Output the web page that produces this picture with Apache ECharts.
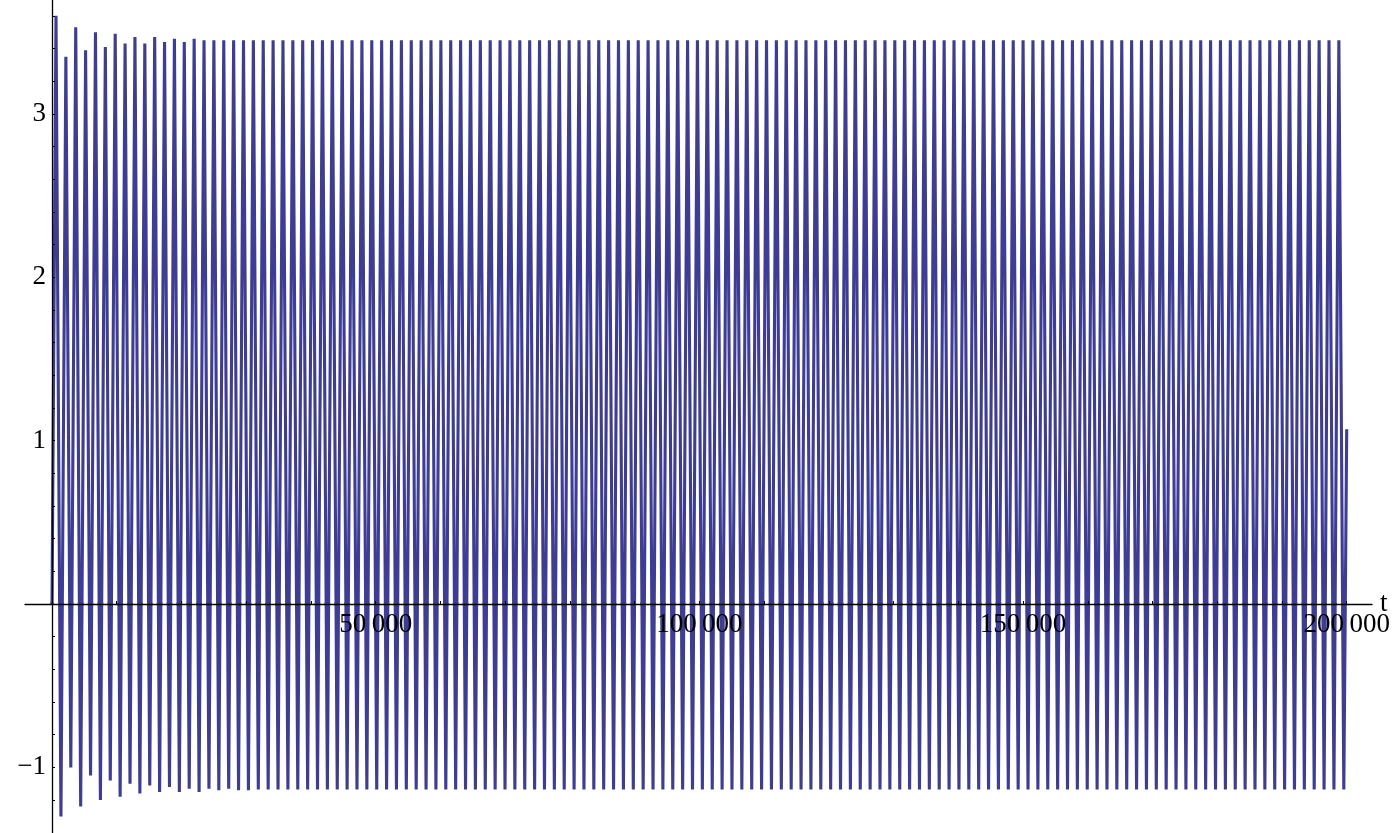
<!DOCTYPE html>
<html>
<head>
<meta charset="utf-8">
<script src="https://cdn.jsdelivr.net/npm/echarts@6/dist/echarts.min.js"></script>
<style>
html,body{margin:0;padding:0;background:#fff;}
#chart{width:1400px;height:833px;}
</style>
</head>
<body>
<div id="chart"></div>
<script>
// ---- data ----
// value at t = 0 and at t = 200000
var startPoint = [0, 0.0];
var endPoint = [200000, 1.07];
// sampling grid of the extrema: first maximum at t = 618, then every half period
var firstPeakT = 618;
var halfPeriod = 762.2;
// successive maxima (131)
var peaks = [
  3.60, 3.35, 3.53, 3.39, 3.50, 3.41, 3.49, 3.43, 3.47, 3.43,
  3.47, 3.44, 3.46, 3.44, 3.46, 3.45,
  3.45, 3.45, 3.45, 3.45, 3.45, 3.45, 3.45, 3.45, 3.45, 3.45,
  3.45, 3.45, 3.45, 3.45, 3.45, 3.45, 3.45, 3.45, 3.45, 3.45,
  3.45, 3.45, 3.45, 3.45, 3.45, 3.45, 3.45, 3.45, 3.45, 3.45,
  3.45, 3.45, 3.45, 3.45, 3.45, 3.45, 3.45, 3.45, 3.45, 3.45,
  3.45, 3.45, 3.45, 3.45, 3.45, 3.45, 3.45, 3.45, 3.45, 3.45,
  3.45, 3.45, 3.45, 3.45, 3.45, 3.45, 3.45, 3.45, 3.45, 3.45,
  3.45, 3.45, 3.45, 3.45, 3.45, 3.45, 3.45, 3.45, 3.45, 3.45,
  3.45, 3.45, 3.45, 3.45, 3.45, 3.45, 3.45, 3.45, 3.45, 3.45,
  3.45, 3.45, 3.45, 3.45, 3.45, 3.45, 3.45, 3.45, 3.45, 3.45,
  3.45, 3.45, 3.45, 3.45, 3.45, 3.45, 3.45, 3.45, 3.45, 3.45,
  3.45, 3.45, 3.45, 3.45, 3.45, 3.45, 3.45, 3.45, 3.45, 3.45,
  3.45, 3.45, 3.45, 3.45, 3.45
];
// successive minima (131)
var troughs = [
  -1.30, -1.00, -1.24, -1.05, -1.20, -1.08, -1.18, -1.10, -1.16, -1.11,
  -1.15, -1.12, -1.15, -1.13, -1.15, -1.13, -1.14, -1.13, -1.14, -1.14,
  -1.135, -1.135, -1.135, -1.135, -1.135, -1.135, -1.135, -1.135, -1.135, -1.135,
  -1.135, -1.135, -1.135, -1.135, -1.135, -1.135, -1.135, -1.135, -1.135, -1.135,
  -1.135, -1.135, -1.135, -1.135, -1.135, -1.135, -1.135, -1.135, -1.135, -1.135,
  -1.135, -1.135, -1.135, -1.135, -1.135, -1.135, -1.135, -1.135, -1.135, -1.135,
  -1.135, -1.135, -1.135, -1.135, -1.135, -1.135, -1.135, -1.135, -1.135, -1.135,
  -1.135, -1.135, -1.135, -1.135, -1.135, -1.135, -1.135, -1.135, -1.135, -1.135,
  -1.135, -1.135, -1.135, -1.135, -1.135, -1.135, -1.135, -1.135, -1.135, -1.135,
  -1.135, -1.135, -1.135, -1.135, -1.135, -1.135, -1.135, -1.135, -1.135, -1.135,
  -1.135, -1.135, -1.135, -1.135, -1.135, -1.135, -1.135, -1.135, -1.135, -1.135,
  -1.135, -1.135, -1.135, -1.135, -1.135, -1.135, -1.135, -1.135, -1.135, -1.135,
  -1.135, -1.135, -1.135, -1.135, -1.135, -1.135, -1.135, -1.135, -1.135, -1.135,
  -1.135
];
// axis ranges, ticks and labels
var tMin = 0, tMax = 200000;
var tAxisLineMin = -4170, tAxisLineMax = 203860;
var yTop = 3.697, yBottom = -1.4015;
var xTickValues = [10000, 20000, 30000, 40000, 50000, 60000, 70000, 80000, 90000, 100000,
  110000, 120000, 130000, 140000, 150000, 160000, 170000, 180000, 190000, 200000];
var xLabelValues = [50000, 100000, 150000, 200000];
var yTickValuesUpper = [0.2, 0.4, 0.6, 0.8, 1.0, 1.2, 1.4, 1.6, 1.8, 2.0, 2.2, 2.4, 2.6,
  2.8, 3.0, 3.2, 3.4, 3.6];
var yTickValuesLower = [-1.2, -1.0, -0.8, -0.6, -0.4, -0.2];
var yLabelValuesUpper = [1, 2, 3];
var yLabelValuesLower = [-1];

// ---- build the series ----
var points = [startPoint];
for (var k = 0; k < peaks.length; k++) {
  points.push([firstPeakT + 2 * k * halfPeriod, peaks[k]]);
  if (k < troughs.length) points.push([firstPeakT + (2 * k + 1) * halfPeriod, troughs[k]]);
}
points.push(endPoint);

var FONT = '"Liberation Serif", "DejaVu Serif", serif';
var BLACK = '#000000';
var LINE_COLOR = '#3d3d99';
var labelStyle = {fontFamily: FONT, fontSize: 27, color: BLACK};

function yAxisOpt(min, max, ticks, labels, gi) {
  return {
    type: 'value', gridIndex: gi, min: min, max: max, position: 'left', z: 10,
    axisLine: {show: true, onZero: false, lineStyle: {color: BLACK, width: 1.3}},
    axisTick: {show: true, inside: true, length: 3, customValues: ticks, lineStyle: {color: BLACK, width: 1}},
    axisLabel: Object.assign({show: true, customValues: labels, margin: 6,
      formatter: function (v) { return String(v).replace('-', '\u2212'); }}, labelStyle),
    splitLine: {show: false}
  };
}

var chart = echarts.init(document.getElementById('chart'), null, {renderer: 'canvas'});
chart.setOption({
  animation: false,
  backgroundColor: '#ffffff',
  grid: [
    {left: 52, right: 53.3, top: 0, bottom: 229, containLabel: false, outerBoundsMode: 'none'},
    {left: 52, right: 53.3, top: 604, bottom: 0, containLabel: false, outerBoundsMode: 'none'},
    {left: 25, right: 28, top: 0, bottom: 229, containLabel: false, outerBoundsMode: 'none'}
  ],
  xAxis: [
    {
      type: 'value', gridIndex: 0, min: tMin, max: tMax, position: 'bottom', z: 10,
      axisLine: {show: false, onZero: false},
      axisTick: {show: true, inside: true, length: 3, customValues: xTickValues, lineStyle: {color: BLACK, width: 1}},
      axisLabel: Object.assign({show: true, customValues: xLabelValues, margin: 7,
        formatter: function (v) { return String(v).replace(/(\d)(?=(\d{3})+$)/g, '$1\u2009'); }}, labelStyle),
      splitLine: {show: false}
    },
    {
      type: 'value', gridIndex: 1, min: tMin, max: tMax, show: false
    },
    {
      type: 'value', gridIndex: 2, min: tAxisLineMin, max: tAxisLineMax, position: 'bottom', z: 10,
      name: 't', nameLocation: 'end', nameGap: 8, nameTextStyle: labelStyle,
      axisLine: {show: true, onZero: false, lineStyle: {color: BLACK, width: 1.3}},
      axisTick: {show: false}, axisLabel: {show: false}, splitLine: {show: false}
    }
  ],
  yAxis: [
    yAxisOpt(0, yTop, yTickValuesUpper, yLabelValuesUpper, 0),
    yAxisOpt(yBottom, 0, yTickValuesLower, yLabelValuesLower, 1),
    {type: 'value', gridIndex: 2, min: 0, max: yTop, show: false}
  ],
  series: [
    {
      type: 'line', xAxisIndex: 0, yAxisIndex: 0, data: points,
      showSymbol: false, symbol: 'none', clip: true, sampling: null,
      lineStyle: {color: LINE_COLOR, width: 3.1, join: 'bevel'}, emphasis: {disabled: true}, z: 2
    },
    {
      type: 'line', xAxisIndex: 1, yAxisIndex: 1, data: points,
      showSymbol: false, symbol: 'none', clip: true, sampling: null,
      lineStyle: {color: LINE_COLOR, width: 3.1, join: 'bevel'}, emphasis: {disabled: true}, z: 2
    }
  ]
});
</script>
</body>
</html>
